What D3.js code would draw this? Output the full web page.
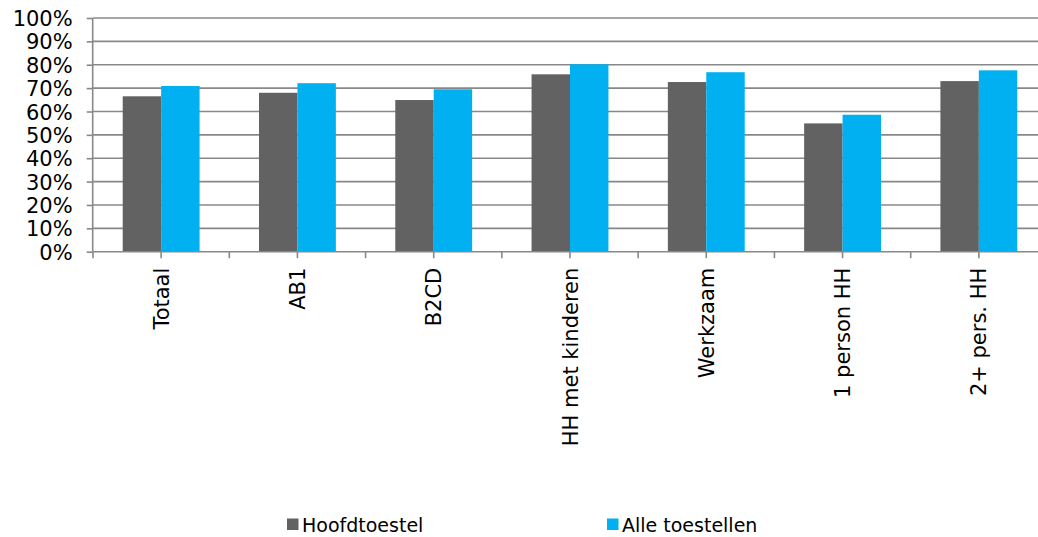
<!DOCTYPE html>
<html><head><meta charset="utf-8">
<script src="https://cdn.jsdelivr.net/npm/d3@7"></script>
<style>body{margin:0;background:#fff}svg{display:block}text{font-family:"DejaVu Sans",Verdana,sans-serif;fill:#000}</style>
</head><body><svg id="c" width="1038" height="537"></svg>
<script>
const categories = ["Totaal","AB1","B2CD","HH met kinderen","Werkzaam","1 person HH","2+ pers. HH"];
const hoofdtoestel = [66.5,68.0,64.9,75.9,72.6,54.9,73.0];
const alleToestellen = [70.9,72.1,69.5,80.2,76.8,58.6,77.6];
const seriesNames = ["Hoofdtoestel","Alle toestellen"];
const colors = ["#626262","#00B0F0"];
const yTicks = [0,10,20,30,40,50,60,70,80,90,100];

const svg = d3.select("#c");
const x0 = 93, x1 = 1047, yTop = 18, yBot = 251.7;
const x = d3.scaleBand().domain(categories).range([x0,x1]).paddingInner(0.436).paddingOuter(0.218);
const y = d3.scaleLinear().domain([0,100]).range([yBot,yTop]);
const xs = d3.scaleBand().domain(seriesNames).range([0,x.bandwidth()]);
const axisColor = "#888";

// gridlines
svg.append("g").selectAll("line").data(yTicks.filter(d=>d>0)).join("line")
  .attr("x1",x0).attr("x2",1038).attr("y1",d=>y(d)).attr("y2",d=>y(d))
  .attr("stroke",axisColor).attr("stroke-width",1.6);

// bars
const data = [hoofdtoestel, alleToestellen];
data.forEach((vals,si)=>{
  svg.append("g").selectAll("rect").data(categories).join("rect")
    .attr("x",(c)=>x(c)+xs(seriesNames[si]))
    .attr("width",xs.bandwidth())
    .attr("y",(c,i)=>y(vals[i]))
    .attr("height",(c,i)=>yBot-y(vals[i]))
    .attr("fill",colors[si]);
});

// y axis
const ya = svg.append("g").attr("transform",`translate(${x0-0.3},0)`)
  .call(d3.axisLeft(y).tickValues(yTicks).tickFormat(d=>d+"%").tickSize(6).tickPadding(14));
ya.attr("font-size",null).attr("font-family",null);
ya.select(".domain").attr("stroke",axisColor).attr("stroke-width",1.6).attr("d",`M0,${yTop}V${yBot}`);
ya.selectAll(".tick line").attr("stroke",axisColor).attr("stroke-width",1.6);
ya.selectAll(".tick text").style("font-size","21px").attr("fill","#000").attr("dy","0.36em");

// x axis
const xa = svg.append("g").attr("transform",`translate(0,${yBot})`);
xa.append("line").attr("x1",x0-0.3).attr("x2",1038).attr("y1",0).attr("y2",0).attr("stroke",axisColor).attr("stroke-width",1.6);
const tickPos = [];
categories.forEach(c=>{ tickPos.push(x(c)-x.step()*x.paddingInner()/2); tickPos.push(x(c)+x.bandwidth()/2); });
tickPos.push(x1);
xa.selectAll("line.t").data(tickPos).join("line").attr("class","t")
  .attr("x1",d=>d).attr("x2",d=>d).attr("y1",0).attr("y2",6.5)
  .attr("stroke",axisColor).attr("stroke-width",1.6);
xa.selectAll("text").data(categories).join("text")
  .attr("transform",c=>`translate(${x(c)+x.bandwidth()/2},16) rotate(-90)`)
  .attr("text-anchor","end").attr("dy","0.36em").style("font-size","21px").text(c=>c);

// legend
const legendX = [287, 607];
seriesNames.forEach((s,i)=>{
  svg.append("rect").attr("x",legendX[i]).attr("y",518.5).attr("width",11.5).attr("height",11.5).attr("fill",colors[i]);
  svg.append("text").attr("x",legendX[i]+15).attr("y",532).style("font-size","19px").text(s);
});
</script></body></html>
